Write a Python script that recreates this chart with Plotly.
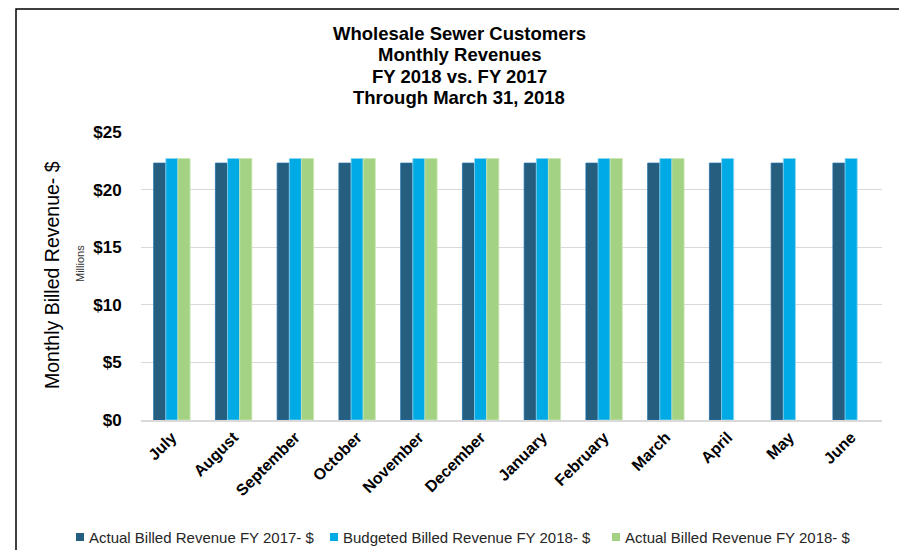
import plotly.graph_objects as go

# month labels and revenue series ($ millions)
months = ["July", "August", "September", "October", "November", "December",
          "January", "February", "March", "April", "May", "June"]
actual_fy2017 = [22.3, 22.3, 22.3, 22.3, 22.3, 22.3, 22.3, 22.3, 22.3, 22.3, 22.3, 22.3]
budget_fy2018 = [22.7, 22.7, 22.7, 22.7, 22.7, 22.7, 22.7, 22.7, 22.7, 22.7, 22.7, 22.7]
actual_fy2018 = [22.7, 22.7, 22.7, 22.7, 22.7, 22.7, 22.7, 22.7, 22.7, None, None, None]
y_ticks = [0, 5, 10, 15, 20, 25]
y_labels = ["$0", "$5", "$10", "$15", "$20", "$25"]

series_names = ["Actual Billed Revenue FY 2017- $",
                "Budgeted Billed Revenue FY 2018- $",
                "Actual Billed Revenue FY 2018- $"]
colors = ["#255E7E", "#00AAE4", "#A4D283"]
edges = ["#1F6FA8", "#8FD6F2", "#C9E6B5"]
title_lines = ["Wholesale Sewer Customers", "Monthly Revenues",
               "FY 2018 vs. FY 2017", "Through March 31, 2018"]

font = "Liberation Sans, Arial, sans-serif"

# the page body adds an 8px margin, so work in screen pixels and shift;
# figure kept smaller than the window so no scrollbars appear
OFF = 8
W, H = 907 - OFF, 558 - 2 * OFF
# plot area in screen pixels
L, R, T, B = 141, 882, 132, 420
PW, PH = R - L, B - T

def px(x):
    return (x - L) / PW

def py(y):
    return (B - y) / PH

fig = go.Figure()
for name, vals, c, e in zip(series_names, [actual_fy2017, budget_fy2018, actual_fy2018], colors, edges):
    fig.add_trace(go.Bar(x=months, y=vals, name=name,
                         marker=dict(color=c, line=dict(color=e, width=0.8))))

fig.update_layout(
    width=W, height=H,
    margin=dict(l=L - OFF, r=W - (R - OFF), t=T - OFF, b=H - (B - OFF)),
    paper_bgcolor="white", plot_bgcolor="white",
    font=dict(family=font, color="black"),
    barmode="group", bargap=0.41, bargroupgap=0,
    showlegend=False,
)

fig.update_xaxes(
    tickangle=-45, tickfont=dict(size=16, family=font, color="black"),
    showline=True, linecolor="#D9D9D9", linewidth=1.5, showgrid=False,
    ticks="", tickprefix="<b>", ticksuffix="</b>", automargin=False,
)
fig.update_yaxes(
    range=[0, 25], tickvals=y_ticks, ticktext=["<b>" + t + "</b>" for t in y_labels],
    tickfont=dict(size=17, family=font, color="black"),
    showgrid=True, gridcolor="#D9D9D9", gridwidth=1, zeroline=False,
    ticks="outside", ticklen=15, tickcolor="white", automargin=False,
)

# title, one annotation per line to match the line spacing
for line, yc in zip(title_lines, [33, 54, 76, 97]):
    fig.add_annotation(text="<b>" + line + "</b>", xref="paper", yref="paper",
                       x=px(459), y=py(yc), xanchor="center", yanchor="middle",
                       showarrow=False, font=dict(size=18.5, family=font, color="black"))

# axis title and units label
fig.add_annotation(text="Monthly Billed Revenue- $", xref="paper", yref="paper",
                   x=px(52), y=py(275), xanchor="center", yanchor="middle", textangle=-90,
                   showarrow=False, font=dict(size=19.5, family=font, color="black"))
fig.add_annotation(text="Millions", xref="paper", yref="paper",
                   x=px(80), y=py(264), xanchor="center", yanchor="middle", textangle=-90,
                   showarrow=False, font=dict(size=11, family=font, color="#333333"))

# legend drawn by hand: small squares with labels
for name, c, x0 in zip(series_names, colors, [76, 330, 612]):
    fig.add_shape(type="rect", xref="paper", yref="paper",
                  x0=px(x0), x1=px(x0 + 8), y0=py(541), y1=py(533),
                  fillcolor=c, line=dict(width=0))
    fig.add_annotation(text=name, xref="paper", yref="paper",
                       x=px(x0 + 11), y=py(537), xanchor="left", yanchor="middle",
                       showarrow=False, font=dict(size=15, family=font, color="#262626"))

# chart frame (top edge kept just inside the figure)
fig.add_shape(type="rect", xref="paper", yref="paper",
              x0=px(16), x1=px(903), y0=py(620), y1=py(OFF + 1),
              line=dict(color="black", width=1.5), layer="below")

fig.write_html("out.html")
